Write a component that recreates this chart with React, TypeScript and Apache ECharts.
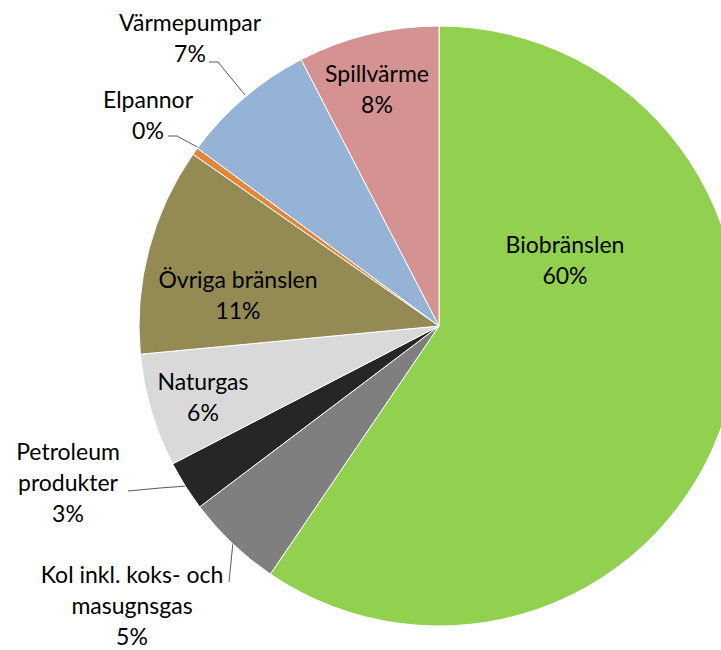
import React, { useEffect, useRef } from "react";
import * as echarts from "echarts";

const categories = [
  "Biobränslen",
  "Kol inkl. koks- och\nmasugnsgas",
  "Petroleum\nprodukter",
  "Naturgas",
  "Övriga bränslen",
  "Elpannor",
  "Värmepumpar",
  "Spillvärme",
];
const values = [59.5, 5.2, 2.7, 6.1, 11.2, 0.4, 7.3, 7.6];
const colors = ["#92D050", "#7F7F7F", "#262626", "#D9D9D9", "#948A54", "#E3863A", "#95B3D7", "#D49392"];
const insideLabel = [true, false, false, true, true, false, false, true];

// label layout (text block centers) and leader lines
const labelPos: [number, number][] = [
  [565, 259],
  [132, 605],
  [68, 482],
  [203, 396],
  [238, 294],
  [148, 114],
  [190, 37],
  [377, 88],
];
const leaderLines: ([number, number][] | null)[] = [
  null,
  [[233, 542], [231, 562], [229, 582]],
  [[187, 486], [160, 488], [128, 491]],
  null,
  null,
  [[199, 148], [177, 136], [168, 136]],
  [[245, 95], [218, 62], [209, 62]],
  null,
];

export default function App() {
  const ref = useRef<HTMLDivElement>(null);
  useEffect(() => {
    document.body.style.margin = "0";
    const chart = echarts.init(ref.current!, null, { renderer: "svg" });
    chart.setOption({
      animation: false,
      backgroundColor: "#ffffff",
      series: [
        {
          type: "pie",
          center: [439, 326],
          radius: 300,
          startAngle: 90,
          clockwise: true,
          avoidLabelOverlap: false,
          itemStyle: { borderColor: "#ffffff", borderWidth: 1 },
          label: {
            fontFamily: "Lato",
            fontSize: 23,
            lineHeight: 31,
            color: "#000000",
            align: "center",
            formatter: (p: any) => `${p.name}\n${Math.round(p.percent)}%`,
          },
          labelLine: {
            show: true,
            length: 10,
            length2: 10,
            lineStyle: { color: "#595959", width: 1 },
          },
          labelLayout: (p: any) => {
            const i = p.dataIndex;
            const res: any = {
              x: labelPos[i][0],
              y: labelPos[i][1],
              align: "center",
              verticalAlign: "middle",
            };
            if (leaderLines[i]) res.labelLinePoints = leaderLines[i];
            return res;
          },
          data: categories.map((name, i) => ({
            name,
            value: values[i],
            itemStyle: { color: colors[i] },
            label: { position: insideLabel[i] ? "inside" : "outside" },
            labelLine: { show: !insideLabel[i] },
          })),
        },
      ],
    });
    return () => chart.dispose();
  }, []);
  return <div ref={ref} style={{ width: 721, height: 650 }} />;
}
